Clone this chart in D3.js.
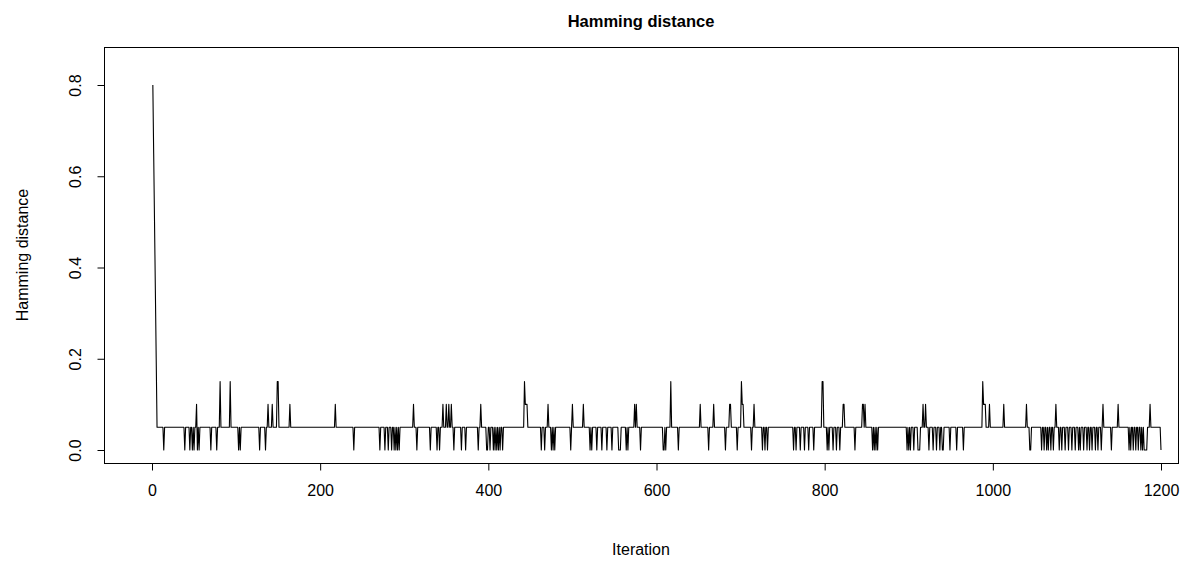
<!DOCTYPE html>
<html><head><meta charset="utf-8">
<script src="https://cdn.jsdelivr.net/npm/d3@7"></script>
<style>body{margin:0;background:#fff}svg{font-family:"Liberation Sans",Arial,Helvetica,sans-serif}</style>
</head><body>
<svg id="c" width="1198" height="563"></svg>
<script>
// ---- data ----
const nIter = 1200;
const baseline = 0.05;                       // most common level
const startValues = [0.8, 0.65, 0.5, 0.35, 0.2];   // iterations 1..5
const devIter = [
  14,39,45,48,50,53,54,56,70,77,81,93,103,105,
  128,135,138,143,149,150,164,218,
  240,271,277,281,285,288,290,292,294,311,315,331,339,342,
  346,350,353,356,359,368,373,388,391,398,399,402,406,408,410,412,414,417,443,444,445,446,463,
  467,471,475,477,479,498,500,513,521,523,529,535,541,547,555,556,557,564,566,574,576,581,
  608,609,611,617,626,652,662,668,682,687,688,696,701,702,703,713,716,
  726,729,732,763,766,771,776,781,787,797,798,803,805,810,814,818,822,823,
  836,845,846,848,857,859,861,863,898,900,902,906,911,912,913,917,920,924,929,933,937,940,941,
  949,957,965,988,989,990,991,996,1013,1040,1044,1045,1058,
  1061,1064,1066,1069,1072,1075,1079,1082,1086,1090,1094,1098,1102,1104,1108,1112,1115,1118,1122,1125,1129,1131,
  1141,1149,1162,1164,1167,1170,1173,1176,1178,1180,1181,1182,1183,1187,1200
];
const devValue = [
  0,0,0,0,0,0.1,0,0,0,0,0.15,0.15,0,0,
  0,0,0.1,0.1,0.15,0.15,0.1,0.1,
  0,0,0,0,0,0,0,0,0,0.1,0,0,0,0,
  0.1,0.1,0.1,0.1,0,0,0,0,0.1,0,0,0,0,0,0,0,0,0,0.15,0.1,0.1,0.1,0,
  0,0.1,0,0,0,0,0.1,0.1,0,0,0,0,0,0,0,0,0,0,0,0.1,0.1,0,
  0,0,0,0.15,0,0.1,0,0.1,0,0.1,0.1,0,0.15,0.1,0.1,0,0.1,
  0,0,0,0,0,0,0,0,0,0.15,0.15,0,0,0,0,0,0.1,0.1,
  0,0.1,0.1,0.1,0,0,0,0,0,0,0,0,0,0,0,0.1,0.1,0,0,0,0,0,0,
  0,0,0,0.15,0.1,0.1,0.1,0.1,0.1,0.1,0,0,0,
  0,0,0,0,0,0.1,0,0,0,0,0,0,0,0,0,0,0,0,0,0,0,0.1,
  0,0.1,0,0,0,0,0,0,0,0,0,0,0,0.1,0
];
const xTicks = [0, 200, 400, 600, 800, 1000, 1200];
const yTicks = [0.0, 0.2, 0.4, 0.6, 0.8];
const yTickLabels = ["0.0", "0.2", "0.4", "0.6", "0.8"];
const titleText = "Hamming distance";
const xLabel = "Iteration";
const yLabel = "Hamming distance";

// ---- assemble series ----
const series = [];
for (let i = 1; i <= nIter; i++) series.push({it: i, v: baseline});
startValues.forEach((v, k) => { series[k].v = v; });
devIter.forEach((it, k) => { series[it - 1].v = devValue[k]; });

// ---- layout ----
const box = {l: 104, r: 1178, t: 47, b: 463};
const svg = d3.select("#c");
const x = d3.scaleLinear().domain([0, 1200]).range([152, 1161]);
const y = d3.scaleLinear().domain([0, 0.8]).range([450, 85]);

// plot frame
svg.append("rect").attr("x", box.l + 0.5).attr("y", box.t + 0.5)
  .attr("width", box.r - box.l).attr("height", box.b - box.t)
  .attr("fill", "none").attr("stroke", "#000").attr("stroke-width", 1);

// line
svg.append("path").datum(series)
  .attr("fill", "none").attr("stroke", "#000").attr("stroke-width", 1.1)
  .attr("stroke-linejoin", "round")
  .attr("d", d3.line().x(d => x(d.it)).y(d => y(d.v)));

// x axis
const gx = svg.append("g").attr("transform", `translate(0,${box.b + 0.5})`)
  .call(d3.axisBottom(x).tickValues(xTicks).tickFormat(d3.format("d")).tickSize(7).tickSizeOuter(0));
gx.select(".domain").remove();
gx.append("line").attr("x1", x(xTicks[0])).attr("x2", x(xTicks[xTicks.length - 1]))
  .attr("stroke", "#000");
gx.selectAll("text").attr("y", 27).attr("dy", "0.35em")
  .attr("font-size", 16).attr("fill", "#000").attr("font-family", null);
gx.selectAll(".tick line").attr("stroke", "#000");

// y axis
const gy = svg.append("g").attr("transform", `translate(${box.l + 0.5},0)`)
  .call(d3.axisLeft(y).tickValues(yTicks).tickFormat((d, i) => yTickLabels[i]).tickSize(7).tickSizeOuter(0));
gy.select(".domain").remove();
gy.append("line").attr("y1", y(yTicks[0])).attr("y2", y(yTicks[yTicks.length - 1]))
  .attr("stroke", "#000");
gy.selectAll(".tick line").attr("stroke", "#000");
gy.selectAll("text").attr("x", null).attr("dy", null)
  .attr("transform", "translate(-29,0) rotate(-90)")
  .attr("text-anchor", "middle").attr("dominant-baseline", "central")
  .attr("font-size", 16).attr("fill", "#000").attr("font-family", null);

// title & axis labels
svg.append("text").attr("x", (box.l + box.r) / 2).attr("y", 21)
  .attr("text-anchor", "middle").attr("dominant-baseline", "central")
  .attr("font-weight", "bold").attr("font-size", 16.5).text(titleText);
svg.append("text").attr("x", (box.l + box.r) / 2).attr("y", 549)
  .attr("text-anchor", "middle").attr("dominant-baseline", "central")
  .attr("font-size", 16).text(xLabel);
svg.append("text").attr("transform", `translate(22,${(box.t + box.b) / 2}) rotate(-90)`)
  .attr("text-anchor", "middle").attr("dominant-baseline", "central")
  .attr("font-size", 16).text(yLabel);
</script>
</body></html>
